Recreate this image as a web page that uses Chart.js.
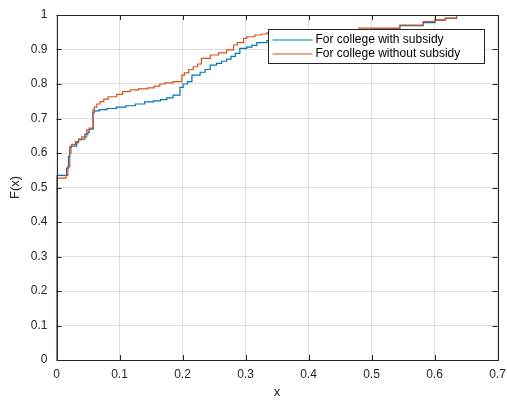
<!DOCTYPE html>
<html>
<head>
<meta charset="utf-8">
<script src="https://cdn.jsdelivr.net/npm/chart.js@4/dist/chart.umd.min.js"></script>
<style>
  html, body { margin: 0; padding: 0; background: #fff; }
  canvas { display: block; }
</style>
</head>
<body>
<canvas id="cdfChart" width="507" height="400"></canvas>
<script>
const withLabel = 'For college with subsidy';
const withX = [0, 0, 0.016, 0.019, 0.021, 0.0225, 0.032, 0.035, 0.045, 0.050, 0.052, 0.058, 0.060, 0.068, 0.080, 0.095,
  0.110, 0.125, 0.140, 0.154, 0.165, 0.175, 0.185, 0.196, 0.201, 0.208, 0.215, 0.228, 0.236, 0.244, 0.254, 0.262,
  0.270, 0.277, 0.284, 0.291, 0.302, 0.310, 0.318, 0.334, 0.360, 0.400, 0.450, 0.500, 0.545, 0.582, 0.601, 0.617,
  0.635, 0.652];
const withF = [0, 0.531, 0.535, 0.556, 0.590, 0.617, 0.620, 0.630, 0.640, 0.655, 0.660, 0.669, 0.717, 0.722, 0.726, 0.729,
  0.733, 0.737, 0.742, 0.748, 0.751, 0.755, 0.760, 0.768, 0.790, 0.800, 0.807, 0.826, 0.834, 0.842, 0.855, 0.860,
  0.866, 0.872, 0.880, 0.889, 0.903, 0.907, 0.912, 0.920, 0.926, 0.935, 0.945, 0.953, 0.960, 0.969, 0.978, 0.985,
  0.990, 1.0];

const withoutLabel = 'For college without subsidy';
const withoutX = [0, 0, 0.015, 0.018, 0.021, 0.023, 0.024, 0.030, 0.035, 0.040, 0.048, 0.052, 0.058, 0.060, 0.064, 0.069,
  0.075, 0.082, 0.0955, 0.105, 0.117, 0.130, 0.145, 0.155, 0.164, 0.172, 0.185, 0.199, 0.203, 0.210, 0.217, 0.224,
  0.230, 0.244, 0.257, 0.270, 0.281, 0.287, 0.297, 0.302, 0.315, 0.325, 0.334, 0.370, 0.420, 0.480, 0.545, 0.582,
  0.601, 0.617, 0.635, 0.652];
const withoutF = [0, 0.524, 0.527, 0.535, 0.560, 0.600, 0.617, 0.625, 0.633, 0.638, 0.647, 0.667, 0.672, 0.725, 0.733, 0.742,
  0.749, 0.756, 0.763, 0.770, 0.778, 0.783, 0.786, 0.789, 0.794, 0.800, 0.803, 0.807, 0.826, 0.832, 0.842, 0.850,
  0.858, 0.874, 0.884, 0.890, 0.899, 0.913, 0.920, 0.932, 0.937, 0.942, 0.945, 0.948, 0.952, 0.956, 0.962, 0.971,
  0.981, 0.986, 0.991, 1.0];

const xTicks = [0, 0.1, 0.2, 0.3, 0.4, 0.5, 0.6, 0.7];
const yTicks = [0, 0.1, 0.2, 0.3, 0.4, 0.5, 0.6, 0.7, 0.8, 0.9, 1];

const axisColor = '#262626';
const fontFamily = '"Liberation Sans", Arial, Helvetica, sans-serif';

// matlab-like box: inward ticks on all four sides, frame and legend inside the axes
const framePlugin = {
  id: 'frame',
  afterDraw(chart) {
    const ctx = chart.ctx;
    const a = chart.chartArea;
    const xs = chart.scales.x, ys = chart.scales.y;
    ctx.save();
    ctx.strokeStyle = axisColor;
    ctx.lineWidth = 1;
    ctx.beginPath();
    xTicks.forEach(v => {
      const px = Math.round(xs.getPixelForValue(v)) + 0.5;
      ctx.moveTo(px, a.bottom); ctx.lineTo(px, a.bottom - 5);
      ctx.moveTo(px, a.top); ctx.lineTo(px, a.top + 5);
    });
    yTicks.forEach(v => {
      const py = Math.round(ys.getPixelForValue(v)) + 0.5;
      ctx.moveTo(a.left, py); ctx.lineTo(a.left + 5, py);
      ctx.moveTo(a.right, py); ctx.lineTo(a.right - 5, py);
    });
    ctx.stroke();
    ctx.strokeRect(Math.round(a.left) + 0.5, Math.round(a.top) + 0.5,
      Math.round(a.width), Math.round(a.height));

    // legend
    ctx.font = '12px ' + fontFamily;
    const items = chart.data.datasets.slice().sort((p, q) => p.legendIndex - q.legendIndex);
    const textW = Math.max(...items.map(d => ctx.measureText(d.label).width));
    const boxW = Math.round(47 + textW + 24);
    const boxH = 34;
    const bx = Math.round(a.right - 13.5 - boxW) + 0.5;
    const by = Math.round(a.top + 14) + 0.5;
    ctx.fillStyle = '#fff';
    ctx.fillRect(bx, by, boxW, boxH);
    ctx.strokeStyle = axisColor;
    ctx.strokeRect(bx, by, boxW, boxH);
    ctx.textBaseline = 'middle';
    ctx.textAlign = 'left';
    items.forEach((d, i) => {
      const ry = by + 10.5 + i * 14;
      ctx.strokeStyle = d.borderColor;
      ctx.lineWidth = 1.2;
      ctx.beginPath();
      ctx.moveTo(bx + 4, Math.round(ry));
      ctx.lineTo(bx + 44, Math.round(ry));
      ctx.stroke();
      ctx.fillStyle = '#000';
      ctx.fillText(d.label, bx + 47, ry);
    });
    ctx.restore();
  }
};

const toPoints = (xs, fs) => xs.map((x, i) => ({ x: x, y: fs[i] }));

new Chart(document.getElementById('cdfChart'), {
  type: 'line',
  data: {
    datasets: [
      {
        label: withLabel,
        legendIndex: 0,
        order: 1,
        data: toPoints(withX, withF),
        borderColor: '#0072BD',
        borderWidth: 1.2,
        stepped: 'after',
        pointRadius: 0,
        fill: false
      },
      {
        label: withoutLabel,
        legendIndex: 1,
        order: 0,
        data: toPoints(withoutX, withoutF),
        borderColor: '#D95319',
        borderWidth: 1.2,
        stepped: 'after',
        pointRadius: 0,
        fill: false
      }
    ]
  },
  options: {
    responsive: false,
    animation: false,
    devicePixelRatio: 1,
    layout: { padding: { top: 15, right: 9.5, left: 0, bottom: 0 } },
    plugins: {
      legend: { display: false },
      tooltip: { enabled: false }
    },
    scales: {
      x: {
        type: 'linear',
        min: 0,
        max: 0.7,
        afterBuildTicks: s => { s.ticks = xTicks.map(v => ({ value: v })); },
        afterFit: s => { s.height = 40; s.paddingLeft = 0; s.paddingRight = 0; },
        grid: { color: 'rgba(38,38,38,0.15)', drawTicks: false },
        border: { display: false },
        ticks: {
          padding: 7,
          color: axisColor,
          font: { family: fontFamily, size: 12 },
          maxRotation: 0,
          callback: v => String(v)
        },
        title: {
          display: true,
          text: 'x',
          color: axisColor,
          font: { family: fontFamily, size: 13 },
          padding: { top: 0, bottom: 0 }
        }
      },
      y: {
        type: 'linear',
        min: 0,
        max: 1,
        afterBuildTicks: s => { s.ticks = yTicks.map(v => ({ value: v })); },
        afterFit: s => { s.width = 56.5; s.paddingTop = 0; s.paddingBottom = 0; },
        grid: { color: 'rgba(38,38,38,0.15)', drawTicks: false },
        border: { display: false },
        ticks: {
          padding: 9,
          color: axisColor,
          font: { family: fontFamily, size: 12 },
          callback: v => String(v)
        },
        title: {
          display: true,
          text: 'F(x)',
          color: axisColor,
          font: { family: fontFamily, size: 13 },
          padding: { top: 8, bottom: 0 }
        }
      }
    }
  },
  plugins: [framePlugin]
});
</script>
</body>
</html>
